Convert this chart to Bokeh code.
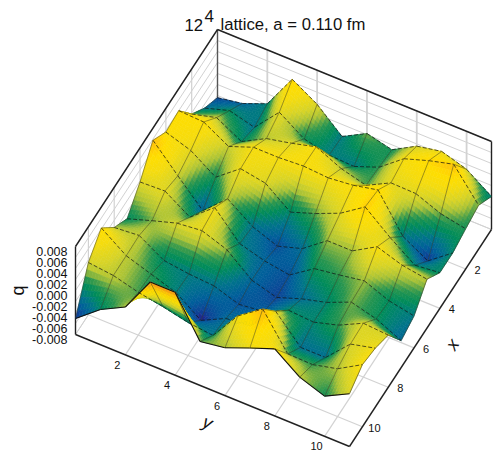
from bokeh.plotting import figure
from bokeh.models import Range1d
from bokeh.embed import file_html
from bokeh.resources import INLINE
from bokeh.core.properties import value
import numpy as np

title_main = "12"
title_sup = "4"
title_rest = "lattice, a = 0.110 fm"
z_ticks = [-0.008, -0.006, -0.004, -0.002, 0.0, 0.002, 0.004, 0.006, 0.008]
x_ticks = [2, 4, 6, 8, 10]
y_ticks = [2, 4, 6, 8, 10]
# q on the lattice: rows are x = 0..11, columns y = 0..11
q_x0 = [-.0044,-.0036,-.0018,.0045,.0018,-.0022,.0002,-.0009,.0016,.0025,.0011,-.002]
q_x1 = [-.0027,-.0013,-.0025,.0021,-.0009,-.002,-.0022,-.0005,.0029,.0044,.0056,0.0]
q_x2 = [-.0002,.001,-.0015,.0009,.0019,.0031,.001,-.0002,.0021,.002,.0002,-.0007]
q_x3 = [.004,.0038,.0012,.0029,.0029,.0032,.0029,.0034,.0044,-.0022,-.0048,-.0015]
q_x4 = [.0037,.0022,-.0008,.0026,.0018,-.0016,0.0,.0019,.0049,.0012,-.002,-.0015]
q_x5 = [.0058,.0012,-.0033,.0007,-.0025,-.0042,-.0028,.0005,.0005,.0031,.0016,.0009]
q_x6 = [.0018,.002,-.0009,.0027,-.002,-.0033,-.004,-.001,-.0003,.0005,-.0013,-.0022]
q_x7 = [-.0013,.0002,.0016,.0021,.0005,-.0032,-.0045,-.0029,-.0017,.0002,-.001,-.0031]
q_x8 = [.0007,.0011,-.0016,-.0022,-.0025,-.004,-.0035,-.0014,-.0017,-.0004,.0018,.0015]
q_x9 = [.0042,.001,-.0005,-.002,-.0052,-.003,-.0025,.002,-.0027,-.0027,.0016,.0027]
q_x10 = [.0015,.001,-.0002,-.001,-.002,-.0025,.0029,.006,-.0003,-.0004,.0007,.0033]
q_x11 = [-.0051,-.0016,.0007,.0071,.0071,0.0,.0007,.0025,.0042,.0009,-.0007,.0016]

Q = np.array([q_x0,q_x1,q_x2,q_x3,q_x4,q_x5,q_x6,q_x7,q_x8,q_x9,q_x10,q_x11])

# view transform of the box
ORG = np.array([217.0, 117.0]); UX = np.array([-142/11, 217/11]); UY = np.array([274/11, 112/11]); ZS = 88/0.016
def P(x, y, z):
    x, y, z = np.asarray(x, float), np.asarray(y, float), np.asarray(z, float)
    return ORG[0]+x*UX[0]+y*UY[0], ORG[1]+x*UX[1]+y*UY[1]-ZS*(z+0.008)

STOPS = [(-.0052,(40,25,135)),(-.0045,(15,65,150)),(-.0035,(0,95,155)),(-.0025,(0,115,140)),(-.0018,(0,130,115)),
         (-.0012,(0,140,90)),(-.0004,(40,150,80)),(0.0,(90,165,70)),(.0006,(170,195,55)),(.0015,(215,212,40)),
         (.0028,(245,220,15)),(.004,(255,222,0)),(.0055,(255,195,10)),(.007,(250,150,20))]
def cmap(z):
    zs=[s[0] for s in STOPS]
    c=[int(np.interp(z,zs,[s[1][i] for s in STOPS])) for i in range(3)]
    return "#%02x%02x%02x"%tuple(c)

p = figure(width=494, height=452, x_range=Range1d(0,494), y_range=Range1d(452,0),
           output_backend="svg", toolbar_location=None, min_border=0, x_axis_type=None, y_axis_type=None,
           outline_line_color=None)
p.grid.visible=False
p.background_fill_color="white"; p.border_fill_color="white"

LIM=11.0
zmin,zmax=z_ticks[0],z_ticks[-1]
GR="#d2d2d2"
def seg(a,b,color=GR,w=1.0):
    xs,ys=zip(*[P(*q) for q in (a,b)])
    p.line(list(map(float,xs)),list(map(float,ys)),line_color=color,line_width=w)
# walls and floor
for z in z_ticks:
    seg((0,0,z),(LIM,0,z)); seg((0,0,z),(0,LIM,z))
for t in x_ticks:
    seg((t,0,zmin),(t,0,zmax),w=1.2); seg((t,0,zmin),(t,LIM,zmin),w=1.2)
for t in y_ticks:
    seg((0,t,zmin),(0,t,zmax),w=1.8); seg((0,t,zmin),(LIM,t,zmin),w=1.2)
seg((0,0,zmin),(0,0,zmax),color="#555555",w=1.4)
seg((0,0,zmin),(LIM,0,zmin)); seg((0,0,zmin),(0,LIM,zmin))
# box outline
BK="#222222"
for a,b in [((LIM,0,zmin),(LIM,LIM,zmin)),((LIM,LIM,zmin),(0,LIM,zmin)),((LIM,0,zmin),(LIM,0,zmax)),
            ((0,LIM,zmin),(0,LIM,zmax)),((LIM,0,zmax),(0,0,zmax)),((0,0,zmax),(0,LIM,zmax))]:
    seg(a,b,color=BK,w=1.4)

DASH="#111111"; SOLID="#33331f"
def rowline(i,j0,j1):
    X,Y=P([i,i],[j0,j1],[Q[i,j0],Q[i,j1]]); return X.tolist(),Y.tolist()
def colline(j,i0,i1):
    X,Y=P([i0,i1],[j,j],[Q[i0,j],Q[i1,j]]); return X.tolist(),Y.tolist()
# smooth surface, painter's order back to front, with the mesh edges after each cell
N=8
for i in range(11):
    for j in range(11):
        xs_all=[];ys_all=[];cols=[]
        for a in range(N):
            for b in range(N):
                u0,u1=a/N,(a+1)/N; v0,v1=b/N,(b+1)/N
                def Z(u,v):
                    return (Q[i,j]*(1-u)*(1-v)+Q[i+1,j]*u*(1-v)+Q[i,j+1]*(1-u)*v+Q[i+1,j+1]*u*v)
                px=[];py=[]
                for u,v in [(u0,v0),(u1,v0),(u1,v1),(u0,v1)]:
                    X,Y=P(i+u,j+v,Z(u,v)); px.append(float(X)); py.append(float(Y))
                xs_all.append(px);ys_all.append(py);cols.append(cmap(Z((u0+u1)/2,(v0+v1)/2)))
        p.patches(xs_all,ys_all,fill_color=cols,line_color=cols,line_width=0.6)
        X,Y=rowline(i,j,j+1); p.line(X,Y,line_color=DASH,line_width=0.7,line_dash="4 2")
        X,Y=colline(j,i,i+1); p.line(X,Y,line_color=SOLID,line_width=0.55,line_alpha=0.85)
        if i==10:
            X,Y=rowline(11,j,j+1); p.line(X,Y,line_color=DASH,line_width=1.1)
        if j==10:
            X,Y=colline(11,i,i+1); p.line(X,Y,line_color=SOLID,line_width=0.55)

FONT=value("Liberation Sans")
def txt(x,y,s,size,align="center",base="middle",angle=0,style="normal"):
    p.text([x],[y],text=[s],text_font=FONT,text_font_size=f"{size}px",text_align=align,text_baseline=base,
           angle=angle,text_color="#111111",text_font_style=style)
for z in z_ticks:
    X,Y=P(LIM,0,z); txt(float(X)-8,float(Y)+5,f"{z:.3f}",12.5,align="right")
for t in y_ticks:
    X,Y=P(LIM,t,zmin); txt(float(X)-8,float(Y)+10,str(t),11)
for t in x_ticks:
    X,Y=P(t,LIM,zmin); txt(float(X)+12,float(Y)+1,str(t),11)
txt(17,290,"q",18,angle=np.pi/2)
txt(207,422,"y",18,angle=-0.37,style="italic")
txt(452,344,"x",18,angle=1.0,style="italic")
txt(184,24,title_main,16.7,align="left",base="alphabetic")
txt(204,15,title_sup,17,align="left",base="alphabetic")
txt(220,24,title_rest,16.7,align="left",base="alphabetic")

open("out.html","w").write(file_html(p,INLINE))
